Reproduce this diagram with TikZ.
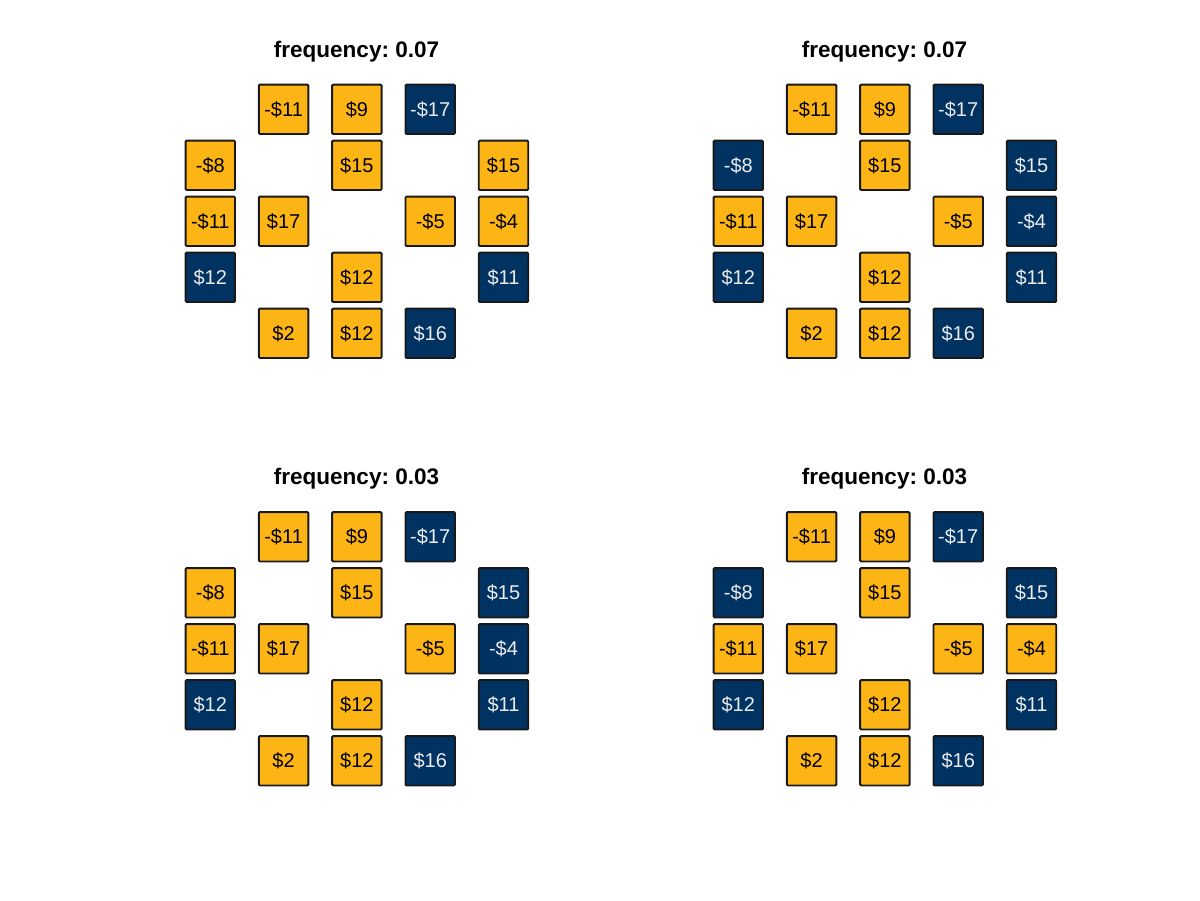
\documentclass[tikz,border=0pt]{standalone}
\usepackage{fontspec}
\setmainfont{Liberation Sans}
\frenchspacing
\definecolor{gold}{HTML}{FDB515}
\definecolor{navy}{HTML}{003262}
\tikzset{
  cell/.style={draw=black!90, line width=1.4pt, rounded corners=0.8pt, minimum width=37.1pt, minimum height=37.1pt, inner sep=0pt, text height=10.7pt, text depth=0pt, font=\fontsize{15}{17}\selectfont},
  G/.style={cell, fill=gold, text=black},
  B/.style={cell, fill=navy, text=white!92!black},
  titlest/.style={anchor=base, inner sep=0pt, font=\fontsize{16.9}{19}\selectfont\bfseries}
}
\newcommand\mypanel[5]{%
  \node[titlest] (#1-t) at ({356.5+#2},{57.3+#3}) {#4};
  \foreach \c/\r/\t/\k in {#5}
    \node[\k] (#1-r\r c\c) at ({210.3+73.3*(\c-1)+#2},{109.3+56*(\r-1)+#3}) {\t};
}
\begin{document}
\begin{tikzpicture}[x=0.75pt,y=-0.75pt]
\useasboundingbox (0,0) rectangle (1200,900);
\mypanel{tl}{0}{0}{frequency: 0.07}{2/1/-\$11/G, 3/1/\$9/G, 4/1/-\$17/B,
  1/2/-\$8/G, 3/2/\$15/G, 5/2/\$15/G,
  1/3/-\$11/G, 2/3/\$17/G, 4/3/-\$5/G, 5/3/-\$4/G,
  1/4/\$12/B, 3/4/\$12/G, 5/4/\$11/B,
  2/5/\$2/G, 3/5/\$12/G, 4/5/\$16/B}
\mypanel{tr}{528}{0}{frequency: 0.07}{2/1/-\$11/G, 3/1/\$9/G, 4/1/-\$17/B,
  1/2/-\$8/B, 3/2/\$15/G, 5/2/\$15/B,
  1/3/-\$11/G, 2/3/\$17/G, 4/3/-\$5/G, 5/3/-\$4/B,
  1/4/\$12/B, 3/4/\$12/G, 5/4/\$11/B,
  2/5/\$2/G, 3/5/\$12/G, 4/5/\$16/B}
\mypanel{bl}{0}{427.5}{frequency: 0.03}{2/1/-\$11/G, 3/1/\$9/G, 4/1/-\$17/B,
  1/2/-\$8/G, 3/2/\$15/G, 5/2/\$15/B,
  1/3/-\$11/G, 2/3/\$17/G, 4/3/-\$5/G, 5/3/-\$4/B,
  1/4/\$12/B, 3/4/\$12/G, 5/4/\$11/B,
  2/5/\$2/G, 3/5/\$12/G, 4/5/\$16/B}
\mypanel{br}{528}{427.5}{frequency: 0.03}{2/1/-\$11/G, 3/1/\$9/G, 4/1/-\$17/B,
  1/2/-\$8/B, 3/2/\$15/G, 5/2/\$15/B,
  1/3/-\$11/G, 2/3/\$17/G, 4/3/-\$5/G, 5/3/-\$4/G,
  1/4/\$12/B, 3/4/\$12/G, 5/4/\$11/B,
  2/5/\$2/G, 3/5/\$12/G, 4/5/\$16/B}
\end{tikzpicture}
\end{document}
